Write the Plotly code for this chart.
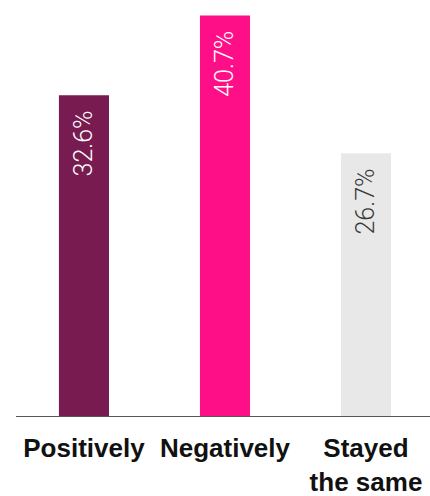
import plotly.graph_objects as go

categories = ["Positively", "Negatively", "Stayed<br>the same"]
values = [32.6, 40.7, 26.7]
bar_colors = ["#771B50", "#FF0F87", "#E8E8E8"]
label_colors = ["#FFFFFF", "#FFFFFF", "#3A3A3A"]

fig = go.Figure(
    go.Bar(
        x=list(range(len(categories))),
        y=values,
        width=0.355,
        marker=dict(color=bar_colors, line=dict(width=0)),
        texttemplate="%{y:.1f}%\u00a0\u00a0",
        textposition="inside",
        insidetextanchor="end",
        textangle=-90,
        textfont=dict(family="Roboto", size=25, color=label_colors, weight=300),
        constraintext="none",
        hoverinfo="skip",
    )
)

fig.update_layout(
    width=430,
    height=496,
    margin=dict(l=16, r=0, t=0, b=80),
    paper_bgcolor="white",
    plot_bgcolor="white",
    showlegend=False,
    uniformtext=dict(mode=False),
)

fig.update_xaxes(
    range=[-0.482, 2.454],
    tickmode="array",
    tickvals=list(range(len(categories))),
    ticktext=categories,
    tickfont=dict(family="Liberation Sans, Arial", size=26, color="#111111", weight="bold"),
    showline=True,
    linecolor="#555555",
    linewidth=1,
    ticks="",
    showgrid=False,
    zeroline=False,
    ticklabelstandoff=9,
    automargin=False,
)

fig.update_yaxes(
    range=[0, 42.28],
    visible=False,
    showgrid=False,
    zeroline=False,
    automargin=False,
)

fig.write_html("out.html")
